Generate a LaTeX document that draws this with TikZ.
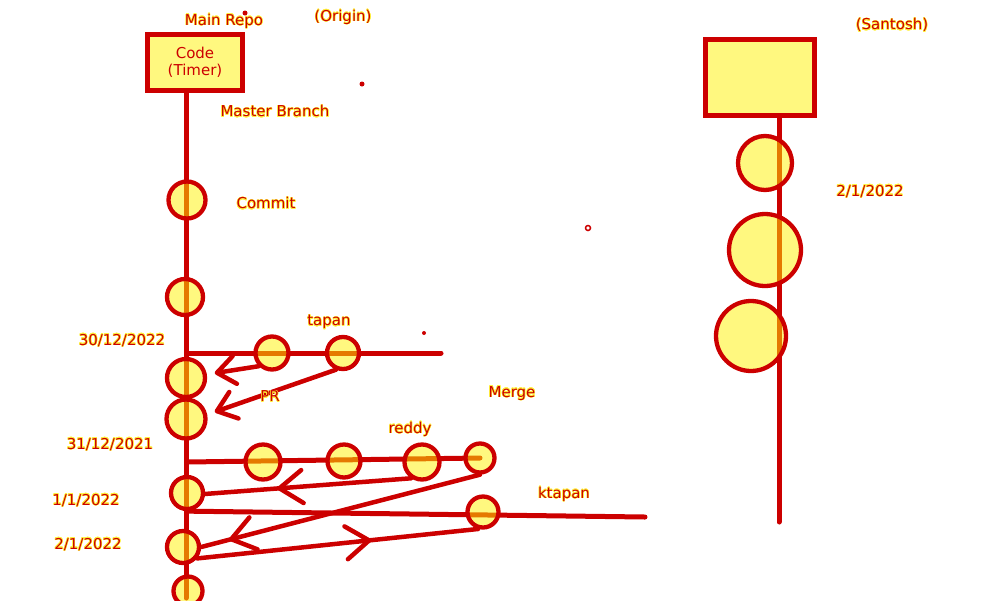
\documentclass[tikz,border=0pt]{standalone}
\usepackage{fontspec}
\setmainfont{DejaVu Sans}
\usepackage[copies]{contour}
\contourlength{0.5pt}
\usetikzlibrary{arrows.meta,decorations.markings,backgrounds}

\definecolor{gitred}{RGB}{204,0,0}
\definecolor{halo}{RGB}{255,240,60}

\begin{document}
\begin{tikzpicture}[x=1pt, y=-1pt,
    every node/.style={font=\fontsize{15}{17}\selectfont, text=gitred},
    lbl/.style={yshift=-1.5pt},
    commit/.style={circle, draw=gitred, line width=4.3pt, fill=yellow, fill opacity=0.5, text opacity=1, inner sep=0pt, minimum size=#1},
    repo/.style={rectangle, draw=gitred, line width=5pt, fill=yellow, fill opacity=0.5, text opacity=1, inner sep=0pt, minimum width=#1},
    branch/.style={draw=gitred, line width=5pt, line cap=round},
    pr/.style={draw=gitred, line width=4.5pt, line cap=round, shorten >=8pt, -{Straight Barb[length=18pt,width=28pt,round]}},
    midarrow/.style={draw=gitred, line width=4.5pt, line cap=round, postaction={decorate},
        decoration={markings, mark=at position #1 with {\arrow{Straight Barb[length=23pt,width=33pt,round]}}}}]
    \useasboundingbox (0,0) rectangle (1000,600);
    % main repo
    \node[repo=95pt, minimum height=56pt, align=center] (code) at (195,62.5) {Code\\(Timer)};
    \node[lbl] (mainrepo) at (224,20) {\contour{halo}{Main Repo}};
    \node[lbl] (origin) at (343,16) {\contour{halo}{(Origin)}};
    \node[lbl] (master) at (275,110) {\contour{halo}{Master Branch}};
    % master commits
    \node[commit=37pt] (m1) at (187,200) {};
    \node[commit=36pt] (m2) at (185,297) {};
    \node[commit=38pt] (m3) at (186,378) {};
    \node[commit=39pt] (m4) at (186,419) {};
    \node[commit=32pt] (m5) at (187,493) {};
    \node[commit=32pt] (m6) at (183,547) {};
    \node[commit=29pt] (m7) at (188,591) {};
    \coordinate (mEnd) at (186,598);
    \node[lbl] (lblcommit) at (266,202) {\contour{halo}{Commit}};
    % tapan
    \node[commit=33pt] (t1) at (272,353) {};
    \node[commit=32pt] (t2) at (343,353) {};
    \coordinate (tEnd) at (441,353);
    \node[lbl] (tapan) at (329,321) {\contour{halo}{tapan}};
    \node[lbl] (pr) at (270,395) {\contour{halo}{PR}};
    % reddy
    \node[commit=35pt] (r1) at (263,462) {};
    \node[commit=33pt] (r2) at (344,461) {};
    \node[commit=35pt] (r3) at (422,462) {};
    \node[commit=29pt] (mg) at (480,458) {};
    \node[lbl] (reddy) at (410,428) {\contour{halo}{reddy}};
    \node[lbl] (merge) at (512,392) {\contour{halo}{Merge}};
    % ktapan
    \node[commit=31pt] (k1) at (483,512) {};
    \coordinate (kEnd) at (645,517);
    \node[lbl] (ktapan) at (564,493) {\contour{halo}{ktapan}};
    % dates
    \node[lbl] (d1) at (122,339) {\contour{halo}{30/12/2022}};
    \node[lbl] (d2) at (110,443) {\contour{halo}{31/12/2021}};
    \node[lbl] (d3) at (86,499) {\contour{halo}{1/1/2022}};
    \node[lbl] (d4) at (88,543) {\contour{halo}{2/1/2022}};
    % santosh
    \node[repo=109pt, minimum height=76pt] (sbox) at (760,77.5) {};
    \node[commit=54pt] (s1) at (765,163) {};
    \node[commit=72pt] (s2) at (765,250) {};
    \node[commit=70pt] (s3) at (751,336) {};
    \coordinate (sEnd) at (779,522);
    \node[lbl] (santosh) at (892,24) {\contour{halo}{(Santosh)}};
    \node[lbl] (d5) at (870,190) {\contour{halo}{2/1/2022}};
    % lines under the commits
    \begin{scope}[on background layer]
        \draw[branch] (code.south -| mEnd) -- (mEnd);
        \draw[branch] (m1 |- t1) -- (tEnd);
        \draw[branch] (m1 |- r1) -- (mg.center);
        \draw[branch] (m5.south) -- (kEnd);
        \draw[branch] (sbox.south -| sEnd) -- (sEnd);
        \draw[pr] (t1.225) -- (m3.10);
        \draw[pr] (t2.247) -- (m4.12);
        \draw[midarrow=0.65] (r3.236) -- (m5.357);
        \draw[midarrow=0.9] (mg.south) -- (m6.east);
        \draw[midarrow=0.62] (m6.321) -- (k1.254);
    \end{scope}
    % stray marks
    \fill[gitred] (245,13) circle (2.5pt);
    \fill[gitred] (362,84) circle (2.5pt);
    \fill[gitred] (424,333) circle (2pt);
    \draw[gitred, line width=1.5pt] (588,228) circle (2.5pt);
\end{tikzpicture}
\end{document}
